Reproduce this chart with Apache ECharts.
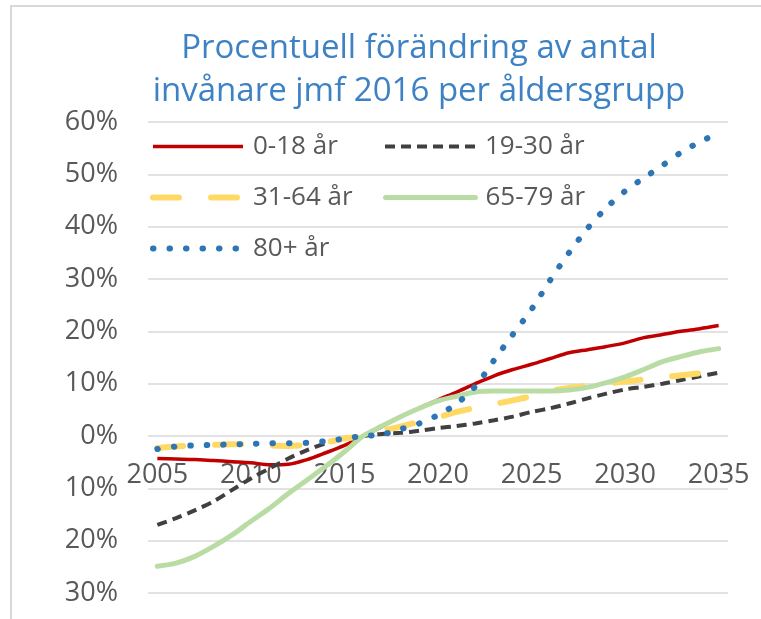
<!DOCTYPE html>
<html>
<head>
<meta charset="utf-8">
<script src="https://cdn.jsdelivr.net/npm/echarts@6/dist/echarts.min.js"></script>
<style>
  html, body { margin: 0; padding: 0; background: #fff; }
  #chart { width: 761px; height: 619px; }
</style>
</head>
<body>
<div id="chart"></div>
<script>
// years 2005..2035, values in % change vs 2016
var years = ["2005","2006","2007","2008","2009","2010","2011","2012","2013","2014","2015",
  "2016","2017","2018","2019","2020","2021","2022","2023","2024","2025",
  "2026","2027","2028","2029","2030","2031","2032","2033","2034","2035"];

var age0_18 = [-4.3,-4.4,-4.5,-4.7,-4.9,-5.1,-5.5,-5.4,-4.5,-3.2,-1.8,
  0,1.8,3.7,5.3,6.9,8.4,10.0,11.5,12.7,13.7,
  14.8,15.9,16.5,17.1,17.8,18.8,19.4,20.0,20.5,21.1];
var age19_30 = [-17.0,-15.7,-14.2,-12.5,-10.3,-8.1,-6.2,-4.3,-2.7,-1.4,-0.4,
  0,0.4,0.6,1.0,1.5,1.9,2.4,3.0,3.7,4.6,
  5.3,6.2,7.2,8.1,8.9,9.4,10.0,10.7,11.4,12.1];
var age31_64 = [-2.3,-2.0,-1.8,-1.7,-1.6,-1.6,-1.8,-1.9,-1.7,-1.2,-0.5,
  0,1.0,1.8,2.7,3.6,4.6,5.4,6.1,6.8,7.6,
  8.6,9.2,9.6,10.0,10.4,10.8,11.2,11.6,12.0,12.4];
var age65_79 = [-24.9,-24.3,-23.0,-21.1,-18.9,-16.3,-13.8,-11.0,-8.4,-5.8,-3.0,
  0,1.9,3.7,5.3,6.7,7.6,8.4,8.6,8.6,8.6,
  8.6,8.8,9.3,10.2,11.3,12.7,14.2,15.2,16.1,16.7];
var age80plus = [-2.5,-2.0,-1.8,-1.7,-1.6,-1.5,-1.4,-1.4,-1.3,-1.0,-0.5,
  0,0.3,1.3,2.4,4.0,6.2,9.5,14.5,19.4,24.2,
  29.8,35.0,39.7,43.6,46.8,49.3,51.7,54.2,56.2,57.9];

var seriesNames = ["0-18 år", "19-30 år", "31-64 år", "65-79 år", "80+ år"];
var seriesData = [age0_18, age19_30, age31_64, age65_79, age80plus];
var colors = ["#c00000", "#404040", "#ffd966", "#b9dca4", "#2e75b6"];
var widths = [3.5, 4, 6, 5, 6];
var dashes = ["solid", [10, 6], [26, 32], "solid", [0.5, 16]];
var caps = ["butt", "butt", "round", "round", "round"];

var font = "Open Sans";
var grey = "#595959";

var myChart = echarts.init(document.getElementById("chart"));

var series = [];
var legendData = [];
for (var i = 0; i < seriesNames.length; i++) {
  var ls = { color: colors[i], width: widths[i], type: dashes[i], cap: caps[i] };
  series.push({
    name: seriesNames[i],
    type: "line",
    data: seriesData[i],
    smooth: 0.3,
    symbol: "none",
    lineStyle: ls,
    itemStyle: { color: colors[i] }
  });
  legendData.push({
    name: seriesNames[i],
    itemStyle: { opacity: 0 },
    lineStyle: { width: widths[i], type: dashes[i], cap: caps[i], color: colors[i] }
  });
}

var option = {
  backgroundColor: "#fff",
  textStyle: { fontFamily: font },
  title: {
    text: "Procentuell förändring av antal\ninvånare jmf 2016 per åldersgrupp",
    left: 414,
    top: 22,
    textAlign: "center",
    textStyle: {
      color: "#3d82c4",
      fontFamily: font,
      fontWeight: "normal",
      fontSize: 33,
      lineHeight: 43
    }
  },
  legend: {
    left: 150,
    top: 131,
    width: 450,
    itemWidth: 90,
    itemHeight: 14,
    itemGap: 20,
    padding: 0,
    textStyle: {
      color: grey,
      fontFamily: font,
      fontSize: 26,
      width: 110,
      lineHeight: 31,
      padding: [0, 0, 0, 5]
    },
    data: legendData
  },
  graphic: [{
    type: "rect",
    shape: { x: 11, y: 6, width: 800, height: 700 },
    style: { fill: "none", stroke: "#d9d9d9", lineWidth: 2 },
    silent: true
  }],
  grid: { left: 148, right: 33, top: 122, bottom: 26, outerBoundsMode: "none" },
  xAxis: {
    type: "category",
    data: years,
    boundaryGap: true,
    position: "bottom",
    offset: -157,
    axisLine: { show: false, onZero: false },
    axisTick: { show: false },
    axisLabel: {
      interval: 4,
      margin: 26,
      color: grey,
      fontFamily: font,
      fontSize: 27
    },
    splitLine: { show: false }
  },
  yAxis: {
    type: "value",
    min: -30,
    max: 60,
    interval: 10,
    axisLine: { show: false },
    axisTick: { show: false },
    axisLabel: {
      margin: 30,
      color: grey,
      fontFamily: font,
      fontSize: 27,
      formatter: function (v) { return Math.abs(v) + "%"; }
    },
    splitLine: { lineStyle: { color: "#d9d9d9", width: 1.5 } }
  },
  series: series
};

myChart.setOption(option);
</script>
</body>
</html>
